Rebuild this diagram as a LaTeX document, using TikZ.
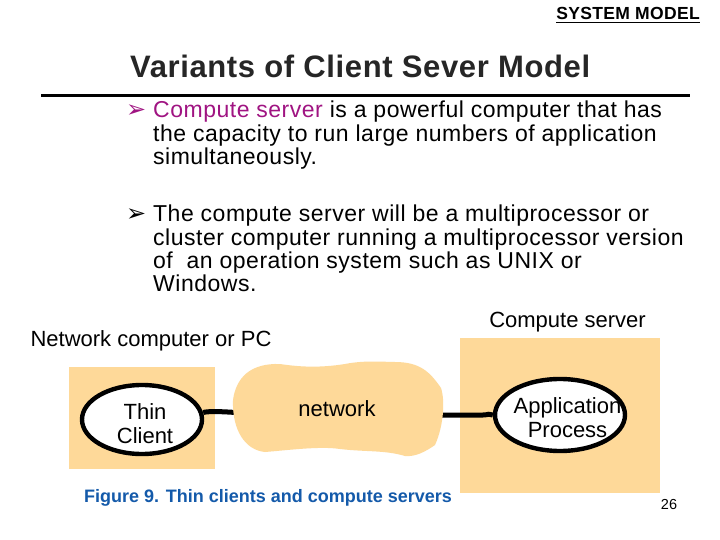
\documentclass[tikz,border=0pt]{standalone}
\usepackage{fontspec}
\setmainfont{Liberation Sans}
\newfontfamily\symfont{DejaVu Sans}
\definecolor{tan}{RGB}{254,217,153}
\definecolor{magen}{RGB}{160,20,130}
\definecolor{figblue}{RGB}{20,90,170}
\usetikzlibrary{shapes.geometric}
\tikzset{
 txt/.style={inner sep=0pt,anchor=base west,font=\fontsize{23}{24}\selectfont\addfontfeature{LetterSpace=2.2}},
 lbl/.style={inner sep=0pt,anchor=base,font=\fontsize{22}{24}\selectfont},
 tanbox/.style={fill=tan,draw=none},
 oval/.style={ellipse,draw=black,line width=4.4pt,fill=white,inner sep=0pt},
 wire/.style={draw=black,line width=5pt},
 bull/.style={inner sep=0pt,anchor=base west,font=\symfont\fontsize{24}{25}\selectfont}
}
\begin{document}
\begin{tikzpicture}[x=1pt,y=-1pt]
\useasboundingbox (0,0) rectangle (720,540);
\fill[white] (0,0) rectangle (720,540);
\node[inner sep=0pt,anchor=base east,font=\bfseries\fontsize{17.5}{18}\selectfont\addfontfeature{LetterSpace=2}] (hdr) at (700,20) {SYSTEM MODEL};
\coordinate (hdrA) at (556,22.5); \coordinate (hdrB) at (700,22.5);
\draw[line width=1pt] (hdrA) -- (hdrB);
\node[inner sep=0pt,anchor=base west,font=\bfseries\fontsize{31}{34}\selectfont\addfontfeature{LetterSpace=2},text=black!85] (title) at (130,78) {Variants of Client Sever Model};
\coordinate (ruleA) at (41,95.5); \coordinate (ruleB) at (690,95.5);
\draw[line width=3pt] (ruleA) -- (ruleB);
\node[bull,text=magen] (b1) at (126,118) {➢};
\node[txt] (l1) at (153,118) {\textcolor{magen}{Compute server} is a powerful computer that has};
\node[txt] (l2) at (153,141.5) {the capacity to run large numbers of application};
\node[txt] (l3) at (153,165) {simultaneously.};
\node[bull,text=black] (b2) at (126,222) {➢};
\node[txt] (m1) at (153,222) {The compute server will be a multiprocessor or};
\node[txt] (m2) at (153,245) {cluster computer running a multiprocessor version};
\node[txt] (m3) at (153,268) {of\ \ an operation system such as UNIX or};
\node[txt] (m4) at (153,291) {Windows.};
\node[lbl] (cs) at (567.5,327) {Compute server};
\node[lbl] (nc) at (151,346) {Network computer or PC};
\node[tanbox,inner sep=0pt,minimum width=146pt,minimum height=102pt] (lbox) at (142,418) {};
\node[tanbox,inner sep=0pt,minimum width=200pt,minimum height=155pt] (rbox) at (560,415.5) {};
\node[oval,minimum width=120pt,minimum height=69pt] (thin) at (142,419.5) {};
\node[oval,minimum width=130pt,minimum height=72pt] (app) at (560,415) {};
\coordinate (netL) at (245,414);
\coordinate (netR) at (430,415);
\draw[wire] (thin.east) ++(-1,-7) .. controls +(10,-3) and +(20,1) .. (netL);
\draw[wire] (netR) -- (483,415) .. controls (488,415) and (490,413) .. (app.west);
\fill[tan] (233,400) .. controls (236,378) and (250,363) .. (280,364)
 .. controls (300,367) and (320,368) .. (345,364)
 .. controls (365,360) and (385,362) .. (395,362)
 .. controls (420,362) and (430,372) .. (441,388)
 .. controls (445,400) and (444,425) .. (435,445)
 .. controls (425,452) and (415,457) .. (405,456)
 .. controls (385,450) and (365,452) .. (340,449)
 .. controls (320,446) and (290,450) .. (265,452)
 .. controls (245,450) and (232,430) .. (233,400) -- cycle;
\node[lbl] (net) at (337,416) {network};
\node[lbl] (thinA) at (145,419) {Thin};
\node[lbl] (thinB) at (145,443) {Client};
\node[lbl] (appA) at (567.5,413) {Application};
\node[lbl] (appB) at (567.5,437) {Process};
\node[inner sep=0pt,anchor=base,text=figblue,font=\bfseries\fontsize{18}{20}\selectfont] (fig) at (268,502) {Figure 9. Thin clients and compute servers};
\node[inner sep=0pt,anchor=base,font=\fontsize{14.5}{16}\selectfont] (pg) at (669,509) {26};
\end{tikzpicture}
\end{document}
